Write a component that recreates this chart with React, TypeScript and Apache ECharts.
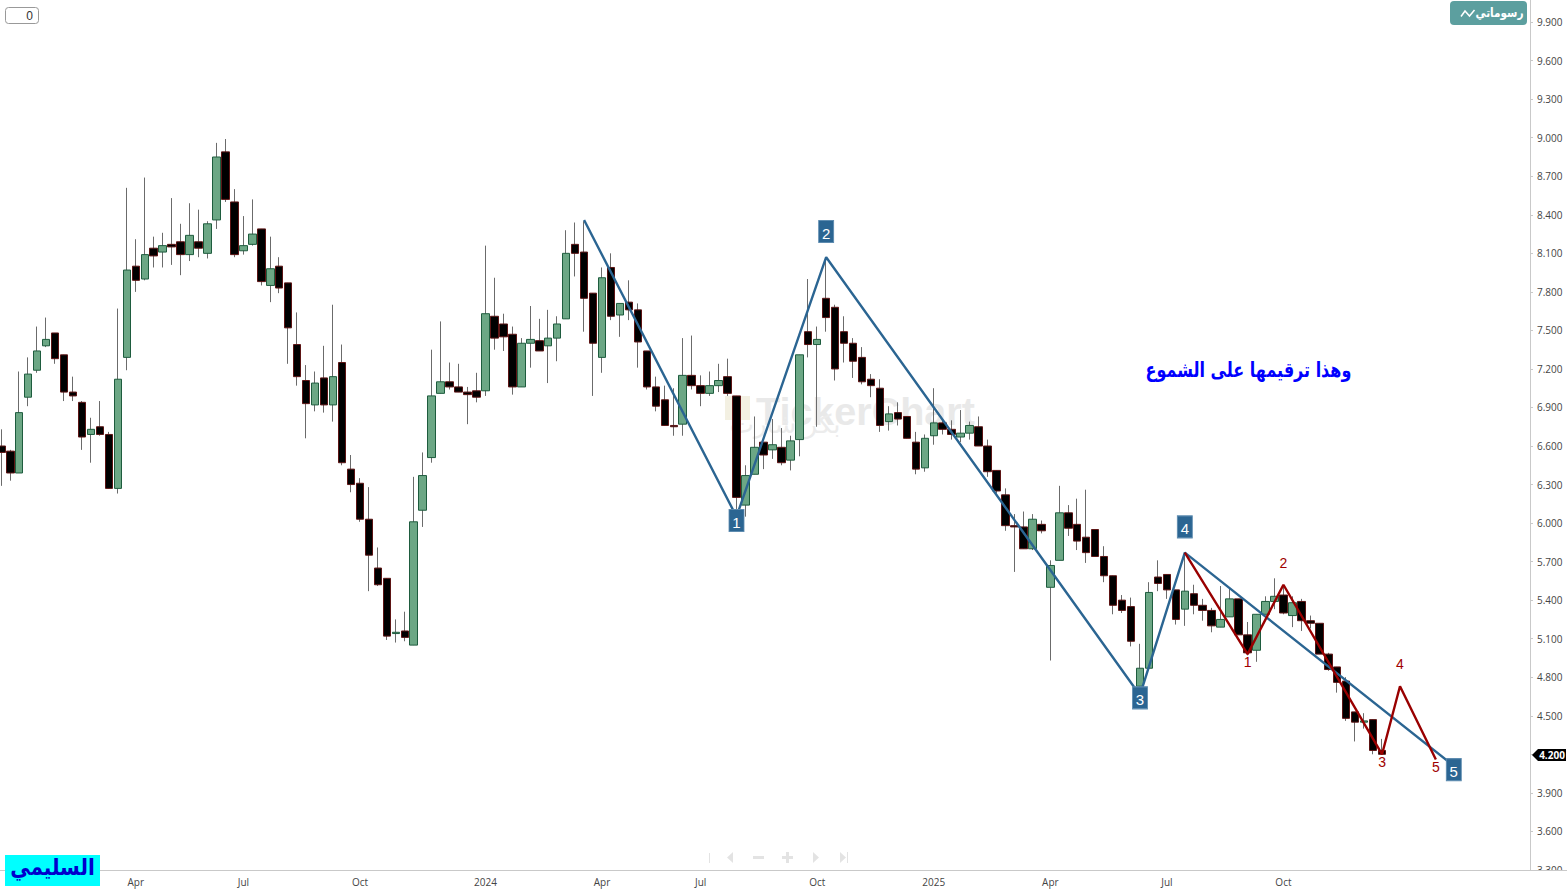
import React, { useEffect, useRef } from "react";
import * as echarts from "echarts";

const opens = [6.60,6.56,6.39,6.98,7.19,7.38,7.48,7.31,7.02,6.94,6.69,6.75,6.69,6.27,7.29,8.00,7.90,8.14,8.11,8.17,8.19,8.09,8.19,8.10,8.36,8.89,8.50,8.12,8.17,8.29,7.85,8.00,7.87,7.39,7.11,6.92,7.13,6.92,7.25,6.42,6.31,6.03,5.65,5.57,5.14,5.16,5.05,6.10,6.51,7.01,7.10,7.06,7.02,7.03,7.03,7.61,7.55,7.47,7.06,7.40,7.42,7.38,7.44,7.59,8.17,8.11,7.79,7.29,7.99,7.62,7.72,7.66,7.34,7.06,6.96,6.76,6.77,7.15,7.07,7.01,7.07,7.14,6.99,6.14,6.38,6.63,6.57,6.59,6.49,6.65,7.49,7.39,7.75,7.68,7.49,7.40,7.29,7.12,7.05,6.79,6.86,6.83,6.63,6.43,6.68,6.78,6.73,6.67,6.70,6.75,6.60,6.41,6.22,5.98,5.97,5.80,5.99,5.50,5.71,6.08,5.99,5.89,5.95,5.74,5.59,5.40,5.35,4.73,4.87,5.58,5.60,5.48,5.33,5.45,5.36,5.32,5.19,5.27,5.41,5.13,5.01,5.29,5.39,5.44,5.28,5.39,5.24,5.22,4.98,4.88,4.77,4.53,4.45,4.47,4.23];
const closes = [6.55,6.39,6.86,7.16,7.34,7.43,7.28,7.02,6.99,6.67,6.73,6.69,6.27,7.12,7.97,7.89,8.09,8.08,8.16,8.15,8.09,8.24,8.14,8.33,8.85,8.52,8.09,8.16,8.25,7.88,7.98,7.83,7.52,7.14,6.93,7.09,6.92,7.14,6.47,6.30,6.03,5.75,5.52,5.12,5.15,5.11,6.01,6.37,6.99,7.10,7.06,7.02,7.00,6.98,7.63,7.44,7.45,7.06,7.40,7.43,7.34,7.44,7.55,8.10,8.10,7.75,7.40,7.91,7.61,7.71,7.66,7.41,7.06,6.91,6.76,6.75,7.15,7.07,7.01,7.07,7.11,7.01,6.20,6.37,6.59,6.53,6.61,6.47,6.64,7.31,7.39,7.43,7.60,7.20,7.40,7.26,7.10,7.07,6.76,6.85,6.81,6.66,6.42,6.66,6.78,6.73,6.69,6.70,6.76,6.60,6.40,6.25,5.98,5.97,5.80,6.03,5.94,5.67,6.08,5.96,5.86,5.77,5.74,5.59,5.36,5.32,5.08,4.87,5.46,5.53,5.48,5.25,5.47,5.36,5.32,5.20,5.25,5.41,5.13,4.99,5.29,5.39,5.43,5.30,5.38,5.24,5.22,4.98,4.86,4.76,4.48,4.45,4.46,4.23,4.20];
const lows = [6.29,6.33,6.39,6.91,7.17,7.37,7.24,6.95,6.95,6.57,6.47,6.68,6.27,6.23,7.19,7.80,7.89,7.99,7.99,8.01,7.93,8.04,8.07,8.06,8.29,8.50,8.07,8.09,8.16,7.85,7.72,7.79,7.24,7.07,6.66,6.87,6.86,6.79,6.45,6.24,6.01,5.47,5.51,5.09,5.07,5.08,5.05,5.97,6.47,7.01,7.04,7.02,6.77,6.94,6.99,7.35,7.34,7.00,7.06,7.21,7.34,7.09,7.26,7.59,7.92,7.49,6.99,7.17,7.58,7.45,7.58,7.21,7.04,6.87,6.76,6.68,6.68,7.04,6.91,6.99,7.02,6.99,6.11,6.05,6.38,6.42,6.50,6.45,6.41,6.52,7.29,6.75,7.49,7.11,7.25,7.13,7.08,6.98,6.71,6.72,6.76,6.66,6.38,6.40,6.61,6.69,6.65,6.63,6.65,6.60,6.36,6.23,5.94,5.62,5.80,5.79,5.92,4.93,5.71,5.90,5.79,5.69,5.74,5.54,5.29,5.30,5.04,4.70,4.87,5.47,5.41,5.21,5.20,5.29,5.24,5.15,5.19,5.27,5.13,4.97,4.92,5.29,5.33,5.29,5.19,5.16,5.18,4.98,4.85,4.68,4.46,4.30,4.40,4.20,4.20];
const highs = [6.73,6.57,7.18,7.29,7.53,7.60,7.48,7.31,7.14,6.95,6.82,6.95,6.71,7.67,8.61,8.21,8.69,8.23,8.26,8.53,8.33,8.49,8.44,8.35,8.96,8.99,8.60,8.39,8.52,8.29,8.23,8.07,7.87,7.64,7.23,7.18,7.38,7.70,7.39,6.53,6.35,6.28,5.81,5.57,5.25,5.31,6.36,6.55,7.35,7.57,7.25,7.24,7.06,7.17,8.16,7.91,7.63,7.53,7.44,7.69,7.59,7.66,7.61,8.28,8.34,8.35,7.79,7.99,8.10,7.71,7.89,7.71,7.34,7.14,7.07,7.05,7.44,7.46,7.15,7.18,7.24,7.28,6.99,6.45,6.83,6.63,6.81,6.74,6.68,7.31,7.90,7.53,8.07,7.70,7.61,7.44,7.37,7.16,7.12,6.91,6.94,6.83,6.71,6.69,7.05,6.80,6.80,6.88,6.79,6.83,6.65,6.41,6.27,6.07,6.09,6.07,6.02,5.71,6.29,6.14,6.19,6.26,5.95,5.82,5.59,5.44,5.42,5.06,5.54,5.71,5.60,5.48,5.77,5.52,5.41,5.34,5.51,5.49,5.41,5.23,5.29,5.43,5.57,5.51,5.43,5.41,5.28,5.22,4.99,4.88,4.80,4.53,4.52,4.47,4.32];

const categoryCount = 171;
const tickIndexes = [15, 27, 40, 54, 67, 78, 91, 104, 117, 130, 143];
const tickLabels = ["Apr", "Jul", "Oct", "2024", "Apr", "Jul", "Oct", "2025", "Apr", "Jul", "Oct"];
const lastPrice = 4.2;

const blueWave = [[65, 8.36], [82, 6.05], [92, 8.07], [127, 4.66], [132, 5.77], [162, 4.11]];
const redWave = [[132, 5.77], [139, 4.98], [143, 5.52], [154, 4.2], [156, 4.73], [160, 4.16]];
const blueMarks = [["1", 82, 6.02], ["2", 92, 8.27], ["3", 127, 4.64], ["4", 132, 5.97], ["5", 162, 4.08]];
const redMarks = [["1", 139, 4.92], ["2", 143, 5.69], ["3", 154, 4.14], ["4", 156, 4.9], ["5", 160, 4.1]];

const noteText = "وهذا ترقيمها على الشموع";
const authorText = "السليمي";
const buttonText = "رسوماتي";
const watermarkLatin = "TickerChart";
const watermarkArabic = "بكر شارت";

const AXIS_GRAY = "#c9c9c9";
const TEXT_GRAY = "#444444";
const TOOL_GRAY = "#e3e3e3";
const UI_FONT = "'Open Sans', sans-serif";

const categories = Array.from({ length: categoryCount }, (_, i) => String(i));
const pickTick = (index: number) => tickIndexes.includes(index);
const candleData = opens.map((o, i) => [o, closes[i], lows[i], highs[i]]);
const bodyData = opens.map((o, i) => [o, closes[i], Math.min(o, closes[i]), Math.max(o, closes[i])]);
const markData = (list: (string | number)[][]) =>
  list.map(([name, x, y]) => ({ name, value: [x, y] }));

const gridHeight = 869.9;
const unitPx = 128.45;

function buildOption() {
  return {
    animation: false,
    backgroundColor: "#ffffff",
    tooltip: { show: false },
    grid: { left: -3.18, top: 0, width: 1533.18, height: gridHeight, containLabel: false, outerBoundsMode: "none" },
    xAxis: {
      type: "category",
      data: categories,
      boundaryGap: true,
      axisLine: { onZero: false, lineStyle: { color: AXIS_GRAY, width: 1 } },
      axisTick: { alignWithLabel: true, interval: (i: number) => pickTick(i), length: 4, lineStyle: { color: AXIS_GRAY } },
      axisLabel: {
        interval: (i: number) => pickTick(i),
        formatter: (_: string, i: number) => tickLabels[tickIndexes.indexOf(i)] ?? "",
        color: TEXT_GRAY,
        fontFamily: UI_FONT,
        fontSize: 10,
        margin: 7,
      },
      splitLine: { show: false },
    },
    yAxis: {
      type: "value",
      position: "right",
      min: 3.3,
      max: 3.3 + gridHeight / unitPx,
      interval: 0.3,
      scale: true,
      axisLine: { show: true, lineStyle: { color: AXIS_GRAY, width: 1 } },
      axisTick: { show: true, length: 3, lineStyle: { color: AXIS_GRAY } },
      axisLabel: {
        showMaxLabel: false,
        color: TEXT_GRAY,
        fontFamily: UI_FONT,
        fontSize: 10,
        margin: 7,
        formatter: (v: number) => (Math.abs(v - lastPrice) < 0.001 ? "" : v.toFixed(3)),
      },
      splitLine: { show: false },
    },
    series: [
      {
        type: "candlestick",
        name: "wicks",
        z: 2,
        silent: true,
        barWidth: 1,
        data: candleData,
        itemStyle: { color: "#6b6b6b", color0: "#6b6b6b", borderColor: "#6b6b6b", borderColor0: "#6b6b6b", borderColorDoji: "#6b6b6b", borderWidth: 1 },
      },
      {
        type: "candlestick",
        name: "bodies",
        z: 3,
        silent: true,
        barWidth: 8,
        data: bodyData,
        itemStyle: { color: "#6ca785", color0: "#000000", borderColor: "#1e5c3e", borderColor0: "#5c1414", borderColorDoji: "#1e5c3e", borderWidth: 1 },
      },
      {
        type: "line",
        name: "blue wave",
        z: 4,
        silent: true,
        data: blueWave,
        symbol: "none",
        lineStyle: { color: "#2b6592", width: 2.4 },
      },
      {
        type: "line",
        name: "red wave",
        z: 5,
        silent: true,
        data: redWave,
        symbol: "none",
        lineStyle: { color: "#990000", width: 2.4 },
      },
      {
        type: "scatter",
        name: "blue marks",
        z: 6,
        silent: true,
        symbol: "rect",
        symbolSize: [15, 22],
        data: markData(blueMarks),
        itemStyle: { color: "#2b6592", opacity: 1, borderColor: "#5e8cb0", borderWidth: 1 },
        label: { show: true, position: "inside", offset: [0, 1.5], formatter: "{b}", color: "#ffffff", fontFamily: "'Liberation Sans', Arial, sans-serif", fontSize: 15 },
      },
      {
        type: "scatter",
        name: "red marks",
        z: 6,
        silent: true,
        symbolSize: 1,
        data: markData(redMarks),
        itemStyle: { color: "transparent", opacity: 1 },
        label: { show: true, position: "inside", formatter: "{b}", color: "#a00000", fontFamily: "'Liberation Sans', Arial, sans-serif", fontSize: 14 },
      },
    ],
    graphic: [
      // watermark, under the candles
      { type: "rect", z: 0, shape: { x: 725, y: 396, width: 25, height: 24 }, style: { fill: "#f3f0e2" } },
      { type: "text", z: 0, x: 756, y: 411, style: { text: watermarkLatin, fill: "#e9e9e9", fontFamily: "'Liberation Sans', Arial, sans-serif", fontWeight: "bold", fontSize: 39.5, textAlign: "left", textVerticalAlign: "middle" } },
      { type: "text", z: 0, x: 785, y: 424, style: { text: watermarkArabic, fill: "#ececec", fontFamily: "'DejaVu Sans', sans-serif", fontSize: 26, textAlign: "center", textVerticalAlign: "middle" } },

      // chart note
      { type: "text", z: 20, x: 1248.5, y: 370, scaleY: 1.3, style: { text: noteText, fill: "#0000ff", fontFamily: "'DejaVu Sans', sans-serif", fontWeight: "bold", fontSize: 16, textAlign: "center", textVerticalAlign: "middle" } },

      // axis corner that hides the clipped label
      { type: "rect", z: 30, shape: { x: 1530.5, y: 870.5, width: 37, height: 21 }, style: { fill: "#ffffff" } },
      { type: "line", z: 31, shape: { x1: 1530, y1: 870.5, x2: 1567, y2: 870.5 }, style: { stroke: AXIS_GRAY, lineWidth: 1 } },

      // author box
      { type: "rect", z: 40, shape: { x: 5, y: 855, width: 95, height: 31 }, style: { fill: "#00ffff" } },
      { type: "text", z: 41, x: 52.5, y: 867, scaleY: 1.15, style: { text: authorText, fill: "#0000cd", fontFamily: "'DejaVu Sans', sans-serif", fontWeight: "bold", fontSize: 20, textAlign: "center", textVerticalAlign: "middle" } },

      // input box
      { type: "rect", z: 40, shape: { x: 5.5, y: 7.5, width: 33, height: 16, r: 3 }, style: { fill: "#ffffff", stroke: "#999999", lineWidth: 1 } },
      { type: "text", z: 41, x: 29.5, y: 15.5, style: { text: "0", fill: "#333333", fontFamily: "'Liberation Sans', Arial, sans-serif", fontSize: 12, textAlign: "center", textVerticalAlign: "middle" } },

      // drawings button
      { type: "rect", z: 40, shape: { x: 1450, y: 1, width: 77, height: 24, r: 4 }, style: { fill: "#5c9f9f" } },
      { type: "polyline", z: 41, shape: { points: [[1461, 16.5], [1465, 11], [1469.5, 16], [1474.5, 10]] }, style: { stroke: "#ffffff", lineWidth: 1.5, fill: "none" } },
      { type: "text", z: 41, x: 1499.5, y: 13, scaleY: 1.2, style: { text: buttonText, fill: "#ffffff", fontFamily: "'DejaVu Sans', sans-serif", fontWeight: "bold", fontSize: 10.5, textAlign: "center", textVerticalAlign: "middle" } },

      // last price tag
      { type: "polygon", z: 40, shape: { points: [[1532, 755], [1538, 749], [1566, 749], [1566, 761], [1538, 761]] }, style: { fill: "#000000" } },
      { type: "text", z: 41, x: 1552, y: 755, style: { text: lastPrice.toFixed(3), fill: "#ffffff", fontFamily: UI_FONT, fontWeight: "bold", fontSize: 10, textAlign: "center", textVerticalAlign: "middle" } },

      // navigation toolbar
      { type: "rect", z: 40, shape: { x: 709, y: 853, width: 1, height: 10 }, style: { fill: TOOL_GRAY } },
      { type: "polygon", z: 40, shape: { points: [[733, 852], [733, 863], [727, 857.5]] }, style: { fill: TOOL_GRAY } },
      { type: "rect", z: 40, shape: { x: 753, y: 856, width: 11, height: 3 }, style: { fill: TOOL_GRAY } },
      { type: "rect", z: 40, shape: { x: 782, y: 856, width: 11, height: 3 }, style: { fill: TOOL_GRAY } },
      { type: "rect", z: 40, shape: { x: 786, y: 852, width: 3, height: 11 }, style: { fill: TOOL_GRAY } },
      { type: "polygon", z: 40, shape: { points: [[813, 852], [813, 863], [819, 857.5]] }, style: { fill: TOOL_GRAY } },
      { type: "polygon", z: 40, shape: { points: [[840, 852], [840, 863], [846, 857.5]] }, style: { fill: TOOL_GRAY } },
      { type: "rect", z: 40, shape: { x: 847, y: 852, width: 1, height: 11 }, style: { fill: TOOL_GRAY } },
    ],
  };
}

export default function App() {
  const ref = useRef<HTMLDivElement>(null);
  useEffect(() => {
    const chart = echarts.init(ref.current, null, { renderer: "svg" });
    chart.setOption(buildOption() as any);
    return () => chart.dispose();
  }, []);
  return (
    <div style={{ position: "fixed", left: 0, top: 0, width: 1567, height: 891, overflow: "hidden", background: "#ffffff" }}>
      <div ref={ref} style={{ width: 1567, height: 891 }} />
    </div>
  );
}
